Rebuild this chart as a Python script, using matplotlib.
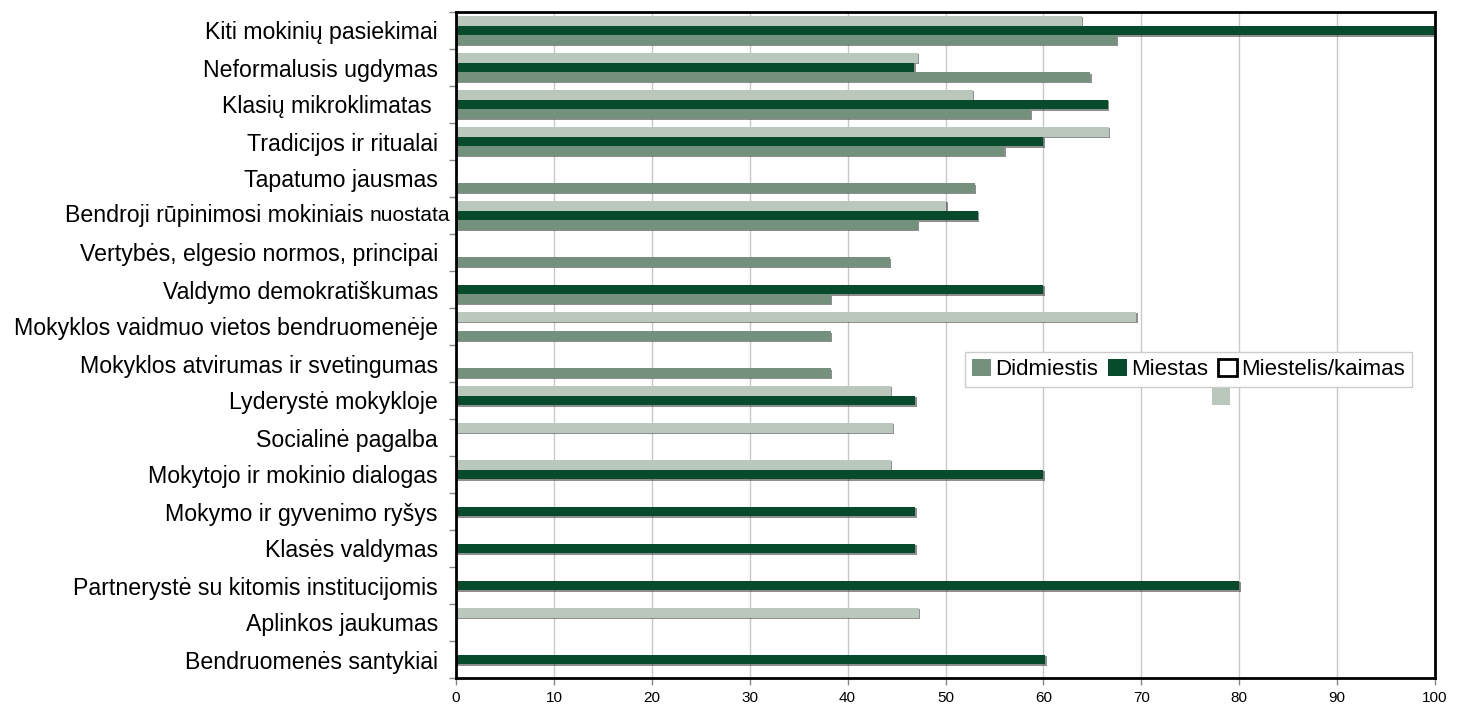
import numpy as np
import matplotlib
matplotlib.use("Agg")
import matplotlib.pyplot as plt
from matplotlib.patches import Rectangle, Patch
import matplotlib.patheffects as pe

categories = ["Kiti mokinių pasiekimai", "Neformalusis ugdymas", "Klasių mikroklimatas ",
              "Tradicijos ir ritualai", "Tapatumo jausmas", "Bendroji rūpinimosi mokiniais nuostata",
              "Vertybės, elgesio normos, principai", "Valdymo demokratiškumas",
              "Mokyklos vaidmuo vietos bendruomenėje", "Mokyklos atvirumas ir svetingumas",
              "Lyderystė mokykloje", "Socialinė pagalba", "Mokytojo ir mokinio dialogas",
              "Mokymo ir gyvenimo ryšys", "Klasės valdymas",
              "Partnerystė su kitomis institucijomis", "Aplinkos jaukumas", "Bendruomenės santykiai"]
didmiestis = [67.5, 64.8, 58.7, 56.0, 53.0, 47.2, 44.3, 38.3, 38.3, 38.3,
              None, None, None, None, None, None, None, None]
miestas = [100, 46.8, 66.6, 60.0, None, 53.3, None, 60.0, None, None,
           46.9, None, 60.0, 46.9, 46.9, 80.0, None, 60.2]
miestelis = [63.9, 47.2, 52.8, 66.7, None, 50.1, None, None, 69.5, None,
             44.4, 44.6, 44.4, None, None, None, 47.3, None]
series_names = ["Didmiestis", "Miestas", "Miestelis/kaimas"]
xticks = [0, 10, 20, 30, 40, 50, 60, 70, 80, 90, 100]

c_did = "#74917e"
c_mie = "#084a2c"
c_kai = "#b9c7bc"

plt.rcParams['font.family'] = ['Liberation Sans', 'DejaVu Sans']

fig = plt.figure(figsize=(14.61, 7.11), dpi=100)
ax = fig.add_axes([456/1461, 1-678/711, (1435-456)/1461, (678-12)/711])

def arr(v):
    return np.array([np.nan if x is None else x for x in v], dtype=float)

y = np.arange(len(categories))
h = 0.26
shadow = [pe.SimplePatchShadow(offset=(1, -1), shadow_rgbFace="#444444", alpha=0.6), pe.Normal()]
for vals, off, col in [(miestelis, -h, c_kai), (miestas, 0, c_mie), (didmiestis, h, c_did)]:
    bars = ax.barh(y + off, arr(vals), height=h, color=col, zorder=3, linewidth=0)
    for b in bars:
        b.set_path_effects(shadow)
        b.set_clip_on(False)

ax.set_xlim(0, 100)
ax.set_ylim(len(categories) - 0.5, -0.5)
ax.set_xticks(xticks)
ax.set_xticklabels([str(t) for t in xticks], fontsize=11)
ax.tick_params(axis='x', length=5, width=1, color='#888888', pad=4, direction='out')
ax.set_yticks(y)
labels = list(categories)
idx_b = categories.index("Bendroji rūpinimosi mokiniais nuostata")
labels[idx_b] = ""
ax.set_yticklabels(labels, fontsize=16.7)
ax.tick_params(axis='y', length=0, pad=13)
ax.set_yticks(np.arange(len(categories) + 1) - 0.5, minor=True)
ax.tick_params(axis='y', which='minor', length=5, width=1, color='#888888', direction='out')

t2 = ax.annotate("nuostata", xy=(0, idx_b), xycoords=('axes fraction', 'data'),
                 xytext=(-4, 0), textcoords='offset points', ha='right', va='center', fontsize=15)
ax.annotate("Bendroji rūpinimosi mokiniais ", xy=(0, 0.5), xycoords=t2,
            ha='right', va='center', fontsize=16.7)

ax.grid(axis='x', color='#c8c8c8', linewidth=1, zorder=0)
ax.set_axisbelow(True)
for s in ax.spines.values():
    s.set_linewidth(2)
    s.set_color('black')
    s.set_zorder(5)

handles = [Patch(facecolor=c_did, edgecolor='none'),
           Patch(facecolor=c_mie, edgecolor='none'),
           Patch(facecolor='white', edgecolor='black', linewidth=2)]
leg = ax.legend(handles, series_names, loc='upper left', bbox_to_anchor=(0.52, 0.4895),
                ncol=3, fontsize=16, frameon=True, fancybox=False, framealpha=1,
                edgecolor='#cccccc', handlelength=0.85, handleheight=0.85,
                handletextpad=0.2, columnspacing=0.45, borderpad=0.3, borderaxespad=0)
leg.get_frame().set_linewidth(1)
leg.set_zorder(10)

ax.add_patch(Rectangle((0.772, 0.41), 0.019, 0.025, transform=ax.transAxes,
                       facecolor=c_kai, edgecolor='none', zorder=11))

fig.savefig("out.png", dpi=100)
